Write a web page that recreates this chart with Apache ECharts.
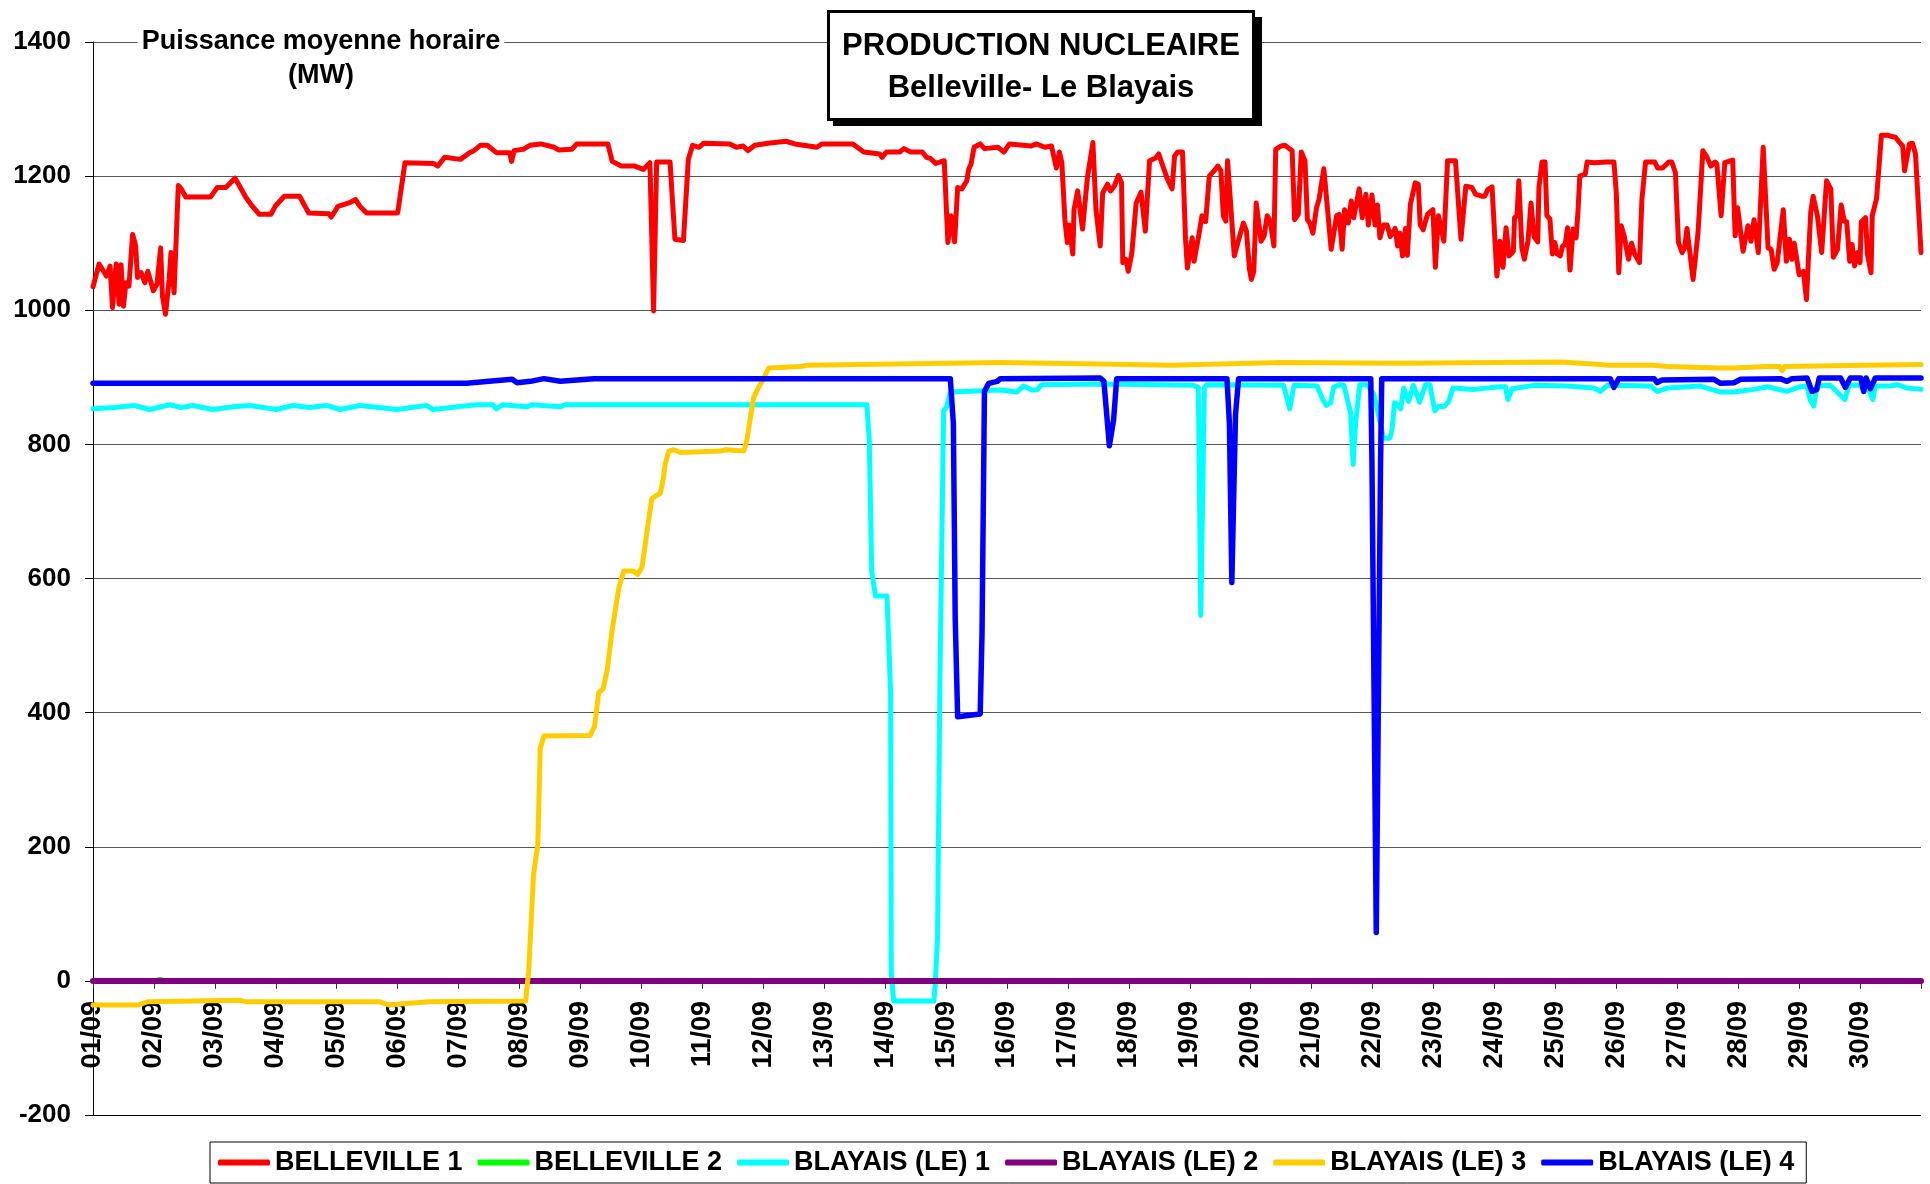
<!DOCTYPE html>
<html>
<head>
<meta charset="utf-8">
<title>Production nucléaire</title>
<script src="https://cdn.jsdelivr.net/npm/echarts@6/dist/echarts.min.js"></script>
<style>
  html, body { margin: 0; padding: 0; background: #fff; }
  #chart { width: 1930px; height: 1184px; }
</style>
</head>
<body>
<div id="chart"></div>
<script>
// x = days since 01/09 00h, y = MW (hourly mean power)
const dayLabels = ['01/09','02/09','03/09','04/09','05/09','06/09','07/09','08/09','09/09','10/09',
  '11/09','12/09','13/09','14/09','15/09','16/09','17/09','18/09','19/09','20/09',
  '21/09','22/09','23/09','24/09','25/09','26/09','27/09','28/09','29/09','30/09'];

const seriesNames = ['BELLEVILLE 1', 'BELLEVILLE 2', 'BLAYAIS (LE) 1', 'BLAYAIS (LE) 2', 'BLAYAIS (LE) 3', 'BLAYAIS (LE) 4'];

const belleville1 = [
  [0.00,1035],[0.02,1034],[0.10,1069],[0.22,1051],[0.28,1066],[0.32,1004],[0.38,1069],[0.43,1009],[0.46,1068],[0.50,1006],
  [0.54,1041],[0.59,1036],[0.65,1113],[0.70,1096],[0.73,1049],[0.79,1056],[0.85,1041],[0.90,1058],[0.99,1029],[1.05,1039],
  [1.11,1093],[1.14,1021],[1.19,994],[1.25,1046],[1.28,1086],[1.33,1026],[1.40,1186],[1.45,1181],[1.52,1169],[1.93,1169],
  [2.00,1178],[2.04,1183],[2.18,1183],[2.33,1197],[2.40,1186],[2.51,1168],[2.59,1158],[2.73,1143],[2.92,1143],[2.99,1155],
  [3.14,1170],[3.39,1170],[3.54,1145],[3.87,1144],[3.91,1139],[4.02,1155],[4.20,1160],[4.31,1165],[4.38,1155],[4.49,1145],
  [5.00,1145],[5.12,1220],[5.59,1219],[5.66,1215],[5.77,1228],[6.03,1225],[6.18,1235],[6.25,1238],[6.36,1246],[6.47,1246],
  [6.62,1235],[6.84,1235],[6.87,1222],[6.91,1238],[7.06,1240],[7.17,1246],[7.35,1248],[7.57,1243],[7.64,1239],[7.86,1240],
  [7.94,1248],[8.45,1248],[8.52,1222],[8.67,1215],[8.89,1215],[9.03,1210],[9.14,1220],[9.20,999],[9.25,1221],[9.47,1221],
  [9.55,1106],[9.69,1104],[9.77,1225],[9.84,1246],[9.95,1243],[10.02,1249],[10.45,1248],[10.56,1243],[10.67,1245],[10.75,1238],
  [10.86,1246],[11.08,1249],[11.37,1252],[11.52,1248],[11.88,1243],[11.96,1248],[12.47,1248],[12.65,1236],[12.91,1233],[12.95,1228],
  [13.02,1236],[13.24,1236],[13.31,1241],[13.42,1236],[13.61,1236],[13.68,1228],[13.75,1226],[13.83,1219],[13.97,1223],[14.03,1101],
  [14.08,1141],[14.14,1102],[14.19,1183],[14.26,1181],[14.34,1193],[14.37,1210],[14.41,1218],[14.46,1243],[14.56,1248],[14.63,1241],
  [14.85,1243],[14.95,1236],[15.04,1248],[15.40,1245],[15.48,1248],[15.62,1243],[15.73,1245],[15.81,1212],[15.86,1236],[15.90,1220],
  [15.95,1135],[15.99,1101],[16.02,1127],[16.08,1084],[16.10,1150],[16.16,1178],[16.24,1121],[16.32,1198],[16.41,1250],[16.46,1150],
  [16.53,1096],[16.57,1175],[16.65,1188],[16.70,1178],[16.76,1185],[16.83,1201],[16.88,1190],[16.90,1071],[16.95,1076],[16.99,1058],
  [17.05,1086],[17.12,1160],[17.20,1176],[17.27,1118],[17.34,1223],[17.44,1227],[17.49,1233],[17.52,1234],[17.63,1196],[17.71,1181],
  [17.75,1230],[17.80,1236],[17.88,1236],[17.93,1106],[17.96,1063],[18.04,1108],[18.07,1073],[18.15,1113],[18.20,1141],[18.26,1132],
  [18.32,1200],[18.40,1208],[18.46,1215],[18.51,1208],[18.55,1141],[18.59,1133],[18.62,1223],[18.73,1081],[18.81,1108],[18.88,1130],
  [18.93,1118],[18.98,1061],[19.01,1046],[19.05,1058],[19.09,1160],[19.17,1103],[19.22,1111],[19.27,1141],[19.32,1133],[19.38,1096],
  [19.41,1240],[19.50,1245],[19.56,1246],[19.68,1238],[19.72,1135],[19.78,1143],[19.83,1236],[19.89,1223],[19.93,1135],[19.97,1130],
  [20.02,1115],[20.08,1153],[20.12,1165],[20.20,1211],[20.32,1091],[20.41,1141],[20.45,1143],[20.50,1091],[20.54,1150],[20.60,1130],
  [20.65,1163],[20.69,1138],[20.78,1181],[20.83,1138],[20.89,1173],[20.93,1127],[20.99,1172],[21.04,1127],[21.08,1157],[21.12,1108],
  [21.18,1127],[21.24,1127],[21.29,1110],[21.37,1122],[21.41,1096],[21.45,1115],[21.49,1081],[21.54,1122],[21.57,1082],[21.62,1158],
  [21.70,1190],[21.75,1188],[21.78,1128],[21.83,1120],[21.90,1143],[21.99,1150],[22.03,1064],[22.08,1141],[22.17,1103],[22.23,1223],
  [22.36,1223],[22.45,1106],[22.53,1185],[22.63,1183],[22.69,1173],[22.79,1170],[22.84,1170],[22.89,1180],[22.96,1184],[23.04,1051],
  [23.09,1103],[23.14,1064],[23.19,1123],[23.24,1081],[23.31,1088],[23.33,1138],[23.37,1141],[23.40,1193],[23.45,1093],[23.49,1076],
  [23.55,1103],[23.60,1160],[23.65,1110],[23.71,1102],[23.73,1183],[23.78,1221],[23.83,1221],[23.86,1141],[23.91,1136],[23.95,1084],
  [23.99,1101],[24.03,1084],[24.08,1081],[24.12,1096],[24.16,1098],[24.20,1123],[24.24,1060],[24.29,1121],[24.34,1108],[24.37,1146],
  [24.40,1200],[24.49,1203],[24.52,1221],[24.64,1220],[24.84,1221],[24.96,1221],[25.00,1175],[25.04,1056],[25.08,1126],[25.13,1110],
  [25.20,1076],[25.25,1100],[25.30,1084],[25.38,1071],[25.42,1166],[25.48,1221],[25.63,1221],[25.68,1212],[25.76,1212],[25.86,1221],
  [25.91,1221],[25.97,1205],[26.02,1101],[26.08,1086],[26.12,1093],[26.16,1122],[26.20,1091],[26.26,1046],[26.34,1115],[26.37,1160],
  [26.42,1238],[26.49,1228],[26.55,1215],[26.62,1221],[26.65,1218],[26.72,1141],[26.78,1220],[26.91,1224],[26.95,1111],[26.99,1153],
  [27.08,1088],[27.16,1126],[27.21,1103],[27.26,1135],[27.33,1086],[27.41,1243],[27.49,1093],[27.54,1091],[27.59,1061],[27.64,1071],
  [27.67,1071],[27.74,1150],[27.79,1073],[27.84,1106],[27.88,1076],[27.92,1100],[28.00,1053],[28.07,1058],[28.12,1016],[28.19,1146],
  [28.23,1170],[28.30,1141],[28.37,1086],[28.45,1193],[28.52,1181],[28.56,1079],[28.63,1091],[28.69,1157],[28.74,1133],[28.78,1132],
  [28.83,1073],[28.87,1098],[28.91,1066],[28.96,1086],[29.00,1071],[29.02,1132],[29.09,1138],[29.12,1084],[29.18,1056],[29.20,1141],
  [29.27,1166],[29.35,1261],[29.45,1261],[29.52,1259],[29.58,1258],[29.65,1250],[29.70,1245],[29.73,1208],[29.81,1248],[29.86,1249],
  [29.91,1233],[30.00,1086]
];

const belleville2 = [[0,0],[1.0,0],[1.1,2],[1.2,0],[2.0,0],[30,0]];

const blayais1 = [
  [0,853],[0.35,855],[0.68,858],[0.93,852],[1.26,859],[1.45,855],[1.64,858],[1.97,852],[2.30,856],[2.57,858],
  [3.01,852],[3.28,858],[3.55,855],[3.83,858],[4.05,852],[4.38,858],[4.70,855],[4.98,852],[5.47,858],[5.58,852],
  [6.29,859],[6.56,859],[6.62,853],[6.72,859],[7.12,856],[7.20,859],[7.67,856],[7.75,859],[12.70,859],[12.74,806],
  [12.78,611],[12.84,574],[13.03,574],[13.09,429],[13.10,14],[13.14,-30],[13.80,-30],[13.82,-10],[13.86,66],[13.90,454],
  [13.96,850],[14.01,856],[14.07,878],[14.89,881],[15.16,878],[15.27,887],[15.41,881],[15.49,881],[15.57,889],[16.53,890],
  [18.06,888],[18.14,885],[18.18,545],[18.24,885],[18.28,889],[19.54,888],[19.64,853],[19.71,888],[20.09,887],[20.17,869],
  [20.24,858],[20.31,862],[20.36,885],[20.47,889],[20.53,888],[20.58,869],[20.64,847],[20.68,770],[20.72,831],[20.79,889],
  [20.91,889],[21.02,875],[21.13,831],[21.18,809],[21.28,809],[21.32,822],[21.36,862],[21.40,860],[21.46,853],[21.51,884],
  [21.59,864],[21.67,888],[21.77,863],[21.87,889],[21.94,889],[22.02,850],[22.09,857],[22.17,856],[22.25,864],[22.32,884],
  [22.66,882],[23.09,886],[23.18,886],[23.22,867],[23.29,883],[23.65,888],[24.19,887],[24.63,884],[24.74,879],[24.85,888],
  [25.56,887],[25.67,879],[25.84,884],[26.38,887],[26.71,878],[26.93,878],[27.26,882],[27.48,886],[27.80,879],[28.02,886],
  [28.13,887],[28.18,867],[28.24,857],[28.29,887],[28.51,888],[28.57,883],[28.75,867],[28.82,888],[29.01,888],[29.06,879],
  [29.11,889],[29.21,867],[29.25,887],[29.50,887],[29.61,889],[29.77,884],[30.00,882]
];

const blayais2 = [[0,0],[30,0]];

const blayais3 = [
  [0,-36],[0.75,-36],[0.90,-31],[2.42,-29],[2.50,-31],[4.70,-31],[4.85,-36],[5.00,-35],[5.50,-31],[7.10,-30],
  [7.15,14],[7.23,159],[7.30,203],[7.34,347],[7.40,365],[8.16,366],[8.23,379],[8.30,430],[8.37,435],[8.44,464],
  [8.52,523],[8.63,586],[8.71,611],[8.87,611],[8.94,606],[9.01,617],[9.06,649],[9.17,719],[9.23,723],[9.31,727],
  [9.36,749],[9.39,771],[9.45,790],[9.53,792],[9.64,788],[10.30,790],[10.38,792],[10.68,790],[10.73,806],[10.84,869],
  [10.90,881],[10.98,894],[11.09,914],[11.61,916],[11.72,918],[14.89,922],[16.50,920],[17.70,918],[18.50,920],[19.50,922],
  [21.46,921],[24.08,923],[24.74,919],[24.85,918],[25.61,918],[25.84,916],[26.66,914],[26.93,914],[27.48,916],[27.68,916],
  [27.72,910],[27.76,916],[29.11,918],[30.00,919]
];

const blayais4 = [
  [0,891],[6.13,891],[6.50,894],[6.88,897],[6.96,892],[7.18,894],[7.40,898],[7.67,894],[8.22,898],[14.07,898],
  [14.12,831],[14.15,542],[14.19,394],[14.56,398],[14.59,517],[14.63,879],[14.70,891],[14.84,894],[14.89,898],[16.53,899],
  [16.59,894],[16.68,798],[16.75,837],[16.80,898],[18.61,898],[18.65,831],[18.69,594],[18.75,844],[18.80,898],[20.97,898],
  [20.99,768],[21.06,72],[21.13,768],[21.15,898],[24.90,898],[24.96,885],[25.04,898],[25.62,898],[25.67,892],[25.75,896],
  [26.60,897],[26.71,891],[26.93,892],[27.04,897],[27.69,898],[27.80,894],[27.88,898],[28.13,899],[28.21,879],[28.29,882],
  [28.33,899],[28.68,899],[28.76,885],[28.84,899],[29.01,899],[29.06,879],[29.10,899],[29.17,883],[29.25,899],[30.00,899]
];

const font = '"Liberation Sans", Arial, sans-serif';
const colors = ['#ff0000', '#00ff00', '#00ffff', '#800080', '#ffcc00', '#0000ff'];
const widths = [5, 5, 5, 6, 5, 5.5];
const allData = [belleville1, belleville2, blayais1, blayais2, blayais3, blayais4];

const yMin = -200, yMax = 1400;
const gridTop = 42, gridBottom = 69, chartH = 1184;
// lift the day axis from the plot bottom up to the 0 MW line
const zeroOffset = -(chartH - gridTop - gridBottom) * (0 - yMin) / (yMax - yMin);

let myChart = echarts.init(document.getElementById('chart'), null, { renderer: 'canvas' });
myChart.setOption({
  animation: false,
  backgroundColor: '#fff',
  color: colors,
  title: [
    {
      text: 'PRODUCTION NUCLEAIRE',
      subtext: 'Belleville- Le Blayais',
      left: 1027,
      top: 11,
      textAlign: 'center',
      padding: [20, 14, 16, 14],
      itemGap: 11,
      backgroundColor: '#fff',
      borderColor: '#000',
      borderWidth: 3,
      z: 7,
      textStyle: { fontFamily: font, fontSize: 31, fontWeight: 'bold', color: '#000' },
      subtextStyle: { fontFamily: font, fontSize: 31, fontWeight: 'bold', color: '#000' }
    },
    {
      text: 'Puissance moyenne horaire\n(MW)',
      left: 317,
      top: 25,
      textAlign: 'center',
      padding: [0, 4],
      backgroundColor: '#fff',
      textStyle: { fontFamily: font, fontSize: 27, fontWeight: 'bold', color: '#000', lineHeight: 34 }
    }
  ],
  // drop shadow of the title box
  graphic: [{
    type: 'rect',
    z: 6,
    shape: { x: 833, y: 17, width: 429, height: 109 },
    style: { fill: '#000' }
  }],
  legend: {
    data: seriesNames,
    left: 210,
    top: 1142,
    padding: [7, 12, 7, 8],
    itemGap: 15,
    itemWidth: 52,
    itemHeight: 6,
    icon: 'roundRect',
    backgroundColor: '#fff',
    borderColor: '#000',
    borderWidth: 1,
    textStyle: { fontFamily: font, fontSize: 27, fontWeight: 'bold', color: '#000' }
  },
  grid: {
    left: 93,
    right: 9,
    top: gridTop,
    bottom: gridBottom,
    outerBoundsMode: 'none'
  },
  xAxis: {
    type: 'value',
    min: 0,
    max: 30,
    interval: 1,
    position: 'bottom',
    offset: zeroOffset,
    axisLine: { show: true, onZero: false, lineStyle: { color: '#555', width: 1 } },
    axisTick: { show: true, length: 8, lineStyle: { color: '#333' } },
    axisLabel: {
      rotate: 90,
      margin: 20,
      fontFamily: font,
      fontSize: 27,
      fontWeight: 'bold',
      color: '#000',
      formatter: function (v) { return dayLabels[v] || ''; }
    },
    splitLine: { show: false }
  },
  yAxis: {
    type: 'value',
    min: yMin,
    max: yMax,
    interval: 200,
    axisLine: { show: true, onZero: false, lineStyle: { color: '#000', width: 1 } },
    axisTick: { show: true, length: 8, lineStyle: { color: '#000' } },
    axisLabel: {
      margin: 22, fontFamily: font, fontSize: 26, fontWeight: 'bold', color: '#000',
      formatter: function (v) { return String(v); }
    },
    splitLine: {
      show: true,
      lineStyle: { color: ['#000', '#555', '#555', '#555', '#555', '#555', '#555', '#555', '#555'], width: 1 }
    }
  },
  series: allData.map(function (d, i) {
    return {
      name: seriesNames[i],
      type: 'line',
      data: d,
      showSymbol: false,
      symbol: 'none',
      lineStyle: { width: widths[i], color: colors[i], join: 'round', cap: 'round' },
      itemStyle: { color: colors[i] },
      emphasis: { disabled: true }
    };
  })
});
</script>
</body>
</html>
